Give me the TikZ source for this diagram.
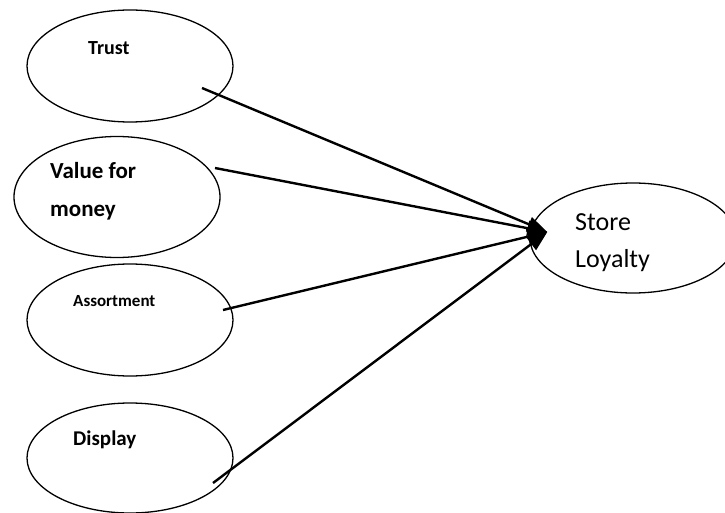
\documentclass[tikz,border=0pt]{standalone}
\usepackage{fontspec}
\setmainfont{Carlito}
\usetikzlibrary{shapes.geometric, arrows.meta, positioning, calc}

\begin{document}
\begin{tikzpicture}[
    x=1pt, y=-1pt,
    factor/.style={ellipse, draw, line width=1.3pt, minimum width=206pt, minimum height=112pt, inner sep=0pt},
    tag/.style={anchor=west, align=left, inner sep=0pt},
    arrow/.style={-{Triangle[length=20pt, width=15pt]}, line width=2.4pt}
]
    \useasboundingbox (0,0) rectangle (725,513);

    % Ellipses
    \node[factor] (trust) at (130,66) {};
    \node[factor, minimum height=121pt] (value) at (117,197) {};
    \node[factor] (assort) at (130,320) {};
    \node[factor, minimum height=110pt] (display) at (130,458) {};
    \node[factor, minimum height=110pt] (loyalty) at (633,238) {};

    % Labels
    \node[tag, font=\bfseries\fontsize{20}{24}\selectfont] (trusttxt) at (88,48) {Trust};
    \node[tag, font=\bfseries\fontsize{23}{38}\selectfont] (valuetxt) at (50,191) {Value for\\money};
    \node[tag, font=\bfseries\fontsize{17}{20}\selectfont] (assorttxt) at (73,301) {Assortment};
    \node[tag, font=\bfseries\fontsize{21}{24}\selectfont] (displaytxt) at (73,440) {Display};
    \node[tag, font=\fontsize{26}{37}\selectfont] (loyaltytxt) at (575,243) {Store\\Loyalty};

    % Arrows
    \coordinate (hit) at ([shift={(18,-6)}]loyalty.west);
    \draw[arrow] ([shift={(72,22)}]trust.center) -- (hit);
    \draw[arrow] ([shift={(98,-29)}]value.center) -- (hit);
    \draw[arrow] ([shift={(93,-10)}]assort.center) -- (hit);
    \draw[arrow] ([shift={(83,25)}]display.center) -- (hit);

\end{tikzpicture}
\end{document}
